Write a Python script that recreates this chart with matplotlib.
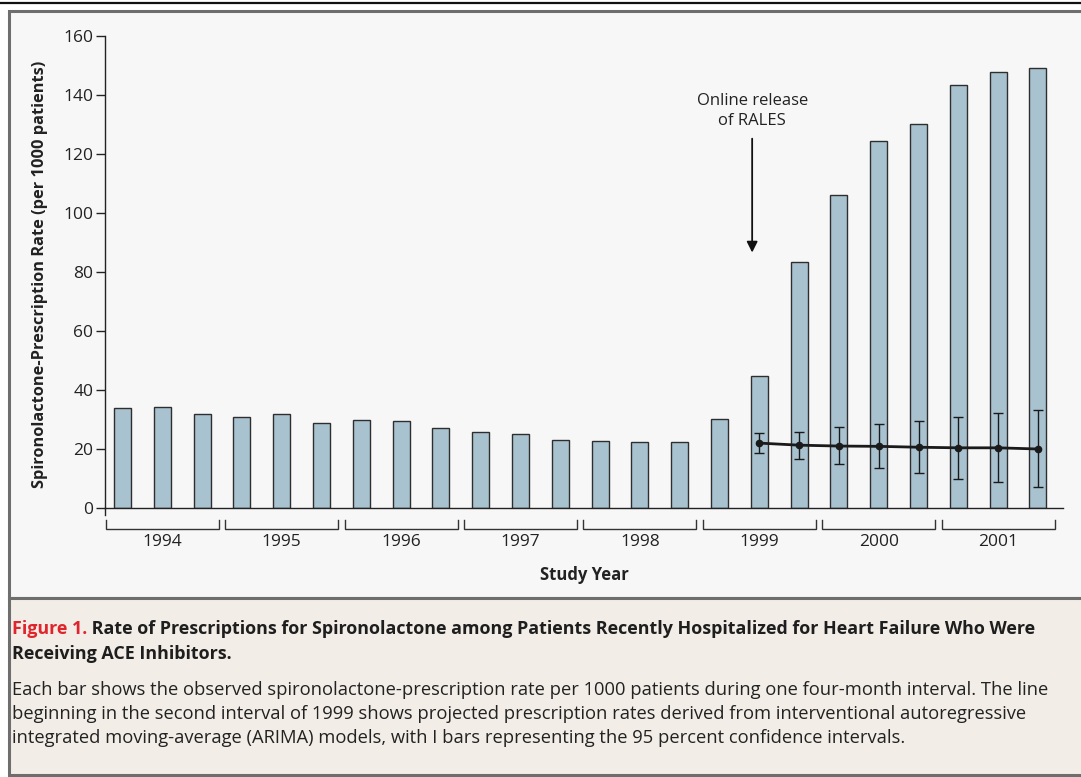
import matplotlib
matplotlib.use("Agg")
import matplotlib.pyplot as plt
from matplotlib.patches import Rectangle
import numpy as np

plt.rcParams['font.family'] = ['Open Sans', 'DejaVu Sans']

# Four-month intervals, three per year
years = ['1994', '1995', '1996', '1997', '1998', '1999', '2000', '2001']
rates = [33.8, 34.2, 31.8,
         30.8, 31.8, 28.8,
         29.8, 29.5, 27.2,
         25.8, 25.0, 23.2,
         22.6, 22.5, 22.3,
         30.0, 44.8, 83.5,
         106.0, 124.5, 130.0,
         143.5, 147.8, 149.3]

# ARIMA projection from the second interval of 1999 onward
proj_start = 16
proj = [22.0, 21.3, 21.0, 20.9, 20.6, 20.4, 20.4, 20.0]
proj_lo = [18.7, 16.7, 14.9, 13.6, 11.9, 9.9, 8.9, 7.1]
proj_hi = [25.3, 25.9, 27.5, 28.6, 29.5, 30.9, 32.3, 33.2]

yticks = [0, 20, 40, 60, 80, 100, 120, 140, 160]

W, H = 1081, 777
fig = plt.figure(figsize=(W / 100, H / 100), dpi=100)
fig.patch.set_facecolor('white')

# background layer in pixel coordinates
bg = fig.add_axes([0, 0, 1, 1], zorder=0)
bg.set_xlim(0, W)
bg.set_ylim(H, 0)
bg.axis('off')
border = '#6e6e6e'
bg.add_patch(Rectangle((9, 11), W + 5, 587, facecolor='#f7f7f7', edgecolor=border, lw=2.2))
bg.add_patch(Rectangle((9, 598), W + 5, 177, facecolor='#f2ede6', edgecolor=border, lw=2.2))
bg.plot([0, W], [3, 3], color='#111111', lw=1.6)

# main chart axes
def px_axes(left, top, right, bottom):
    return [left / W, 1 - bottom / H, (right - left) / W, (bottom - top) / H]

ax = fig.add_axes(px_axes(105, 36, 1063, 508), zorder=1)
ax.patch.set_alpha(0)

x = np.arange(len(rates))
ax.bar(x, rates, width=0.43, color='#a9c2cf', edgecolor='#2e2e2e', linewidth=1.0, zorder=2)

xp = np.arange(proj_start, proj_start + len(proj))
proj = np.array(proj)
yerr = [proj - np.array(proj_lo), np.array(proj_hi) - proj]
ax.errorbar(xp, proj, yerr=yerr, fmt='none', ecolor='#1a1a1a', elinewidth=1.0,
            capsize=3.6, capthick=1.0, zorder=3)
ax.plot(xp, proj, color='#1a1a1a', lw=2.0, marker='o', markersize=4.5, zorder=4)

ax.set_xlim(-0.44, 23.63)
ax.set_ylim(0, 160)
ax.set_yticks(yticks)
ax.set_xticks([])
ax.tick_params(axis='y', length=6.5, width=1.0, pad=2, labelsize=12.5, colors='#222222')
for side in ('top', 'right'):
    ax.spines[side].set_visible(False)
for side in ('left', 'bottom'):
    ax.spines[side].set_linewidth(1.0)
    ax.spines[side].set_color('#222222')
ax.plot([-0.44, -0.44], [0, -2.4], color='#222222', lw=1.0, clip_on=False)

# year brackets under the axis
for k, yr in enumerate(years):
    x0, x1 = 3 * k - 0.42, 3 * k + 2.42
    ax.plot([x0, x0, x1, x1], [-4.1, -7.1, -7.1, -4.1], color='#333333', lw=1.0,
            clip_on=False, solid_joinstyle='miter')
    ax.text(3 * k + 1, -11.6, yr, ha='center', va='center', fontsize=12.5, color='#222222')

ax.annotate('', xy=(15.82, 86.6), xytext=(15.82, 125.2),
            arrowprops=dict(arrowstyle='-|>', color='#111111', lw=1.3, mutation_scale=16,
                            shrinkA=0, shrinkB=0))
ax.text(15.82, 134.6, 'Online release\nof RALES', ha='center', va='center',
        fontsize=12, color='#222222', linespacing=1.3)

fig.text(584 / W, 1 - 575 / H, 'Study Year', ha='center', va='center',
         fontsize=12, fontweight='bold', color='#222222')
fig.text(40 / W, 1 - 274 / H, 'Spironolactone-Prescription Rate (per 1000 patients)',
         rotation=90, ha='center', va='center', fontsize=11.8, fontweight='bold', color='#222222')

# caption
t1 = bg.text(12, 629, 'Figure 1.', ha='left', va='center', fontsize=12.9,
             fontweight='bold', color='#e0242b')
bg.annotate(' Rate of Prescriptions for Spironolactone among Patients Recently Hospitalized for Heart Failure Who Were',
            xy=(1, 0.5), xycoords=t1, ha='left', va='center', fontsize=12.9,
            fontweight='bold', color='#1e1e1e')
bg.text(12, 654, 'Receiving ACE Inhibitors.', ha='left', va='center', fontsize=12.9,
        fontweight='bold', color='#1e1e1e')
body = ['Each bar shows the observed spironolactone-prescription rate per 1000 patients during one four-month interval. The line',
        'beginning in the second interval of 1999 shows projected prescription rates derived from interventional autoregressive',
        'integrated moving-average (ARIMA) models, with I bars representing the 95 percent confidence intervals.']
for i, line in enumerate(body):
    bg.text(12, 690 + 24 * i, line, ha='left', va='center', fontsize=13.2, color='#222222')

fig.savefig('out.png', dpi=100)
